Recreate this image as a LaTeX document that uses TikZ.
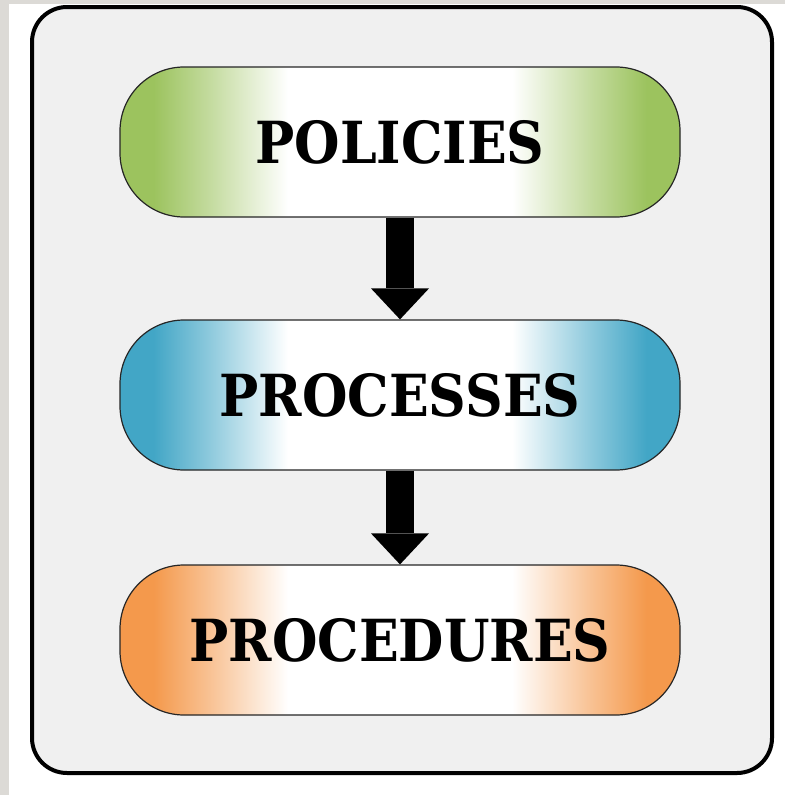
\documentclass[tikz,border=0pt]{standalone}
\usepackage{fontspec}
\newfontfamily\labelfont{DejaVu Serif Condensed}
\usetikzlibrary{arrows.meta}

\definecolor{bggray}{HTML}{DCDAD6}
\definecolor{panelgray}{HTML}{F0F0F0}
\definecolor{polgreen}{HTML}{9CC35E}
\definecolor{procblue}{HTML}{42A6C6}
\definecolor{prcdorange}{HTML}{F4994C}

% white middle, coloured sides
\newcommand{\pillshade}[2]{\pgfdeclarehorizontalshading{#1}{100bp}{color(0bp)=(#2); color(28bp)=(#2); color(33bp)=(#2!60!white); color(40bp)=(white); color(60bp)=(white); color(67bp)=(#2!60!white); color(72bp)=(#2); color(100bp)=(#2)}}
\pillshade{greenpill}{polgreen}
\pillshade{bluepill}{procblue}
\pillshade{orangepill}{prcdorange}

\tikzset{
  pill/.style={draw=black!85, line width=1.2pt, rounded corners=64pt, minimum width=560pt, minimum height=150pt, inner sep=0pt, font=\labelfont\bfseries\fontsize{58}{62}\selectfont},
  flow/.style={line width=28pt, -{Triangle[width=58pt,length=31pt,line width=0pt]}}
}

\begin{document}
\begin{tikzpicture}[x=1pt,y=-1pt]
\useasboundingbox (0,0) rectangle (785,795);
% Background
\fill [white] (0,0) rectangle (785,795);
\fill [bggray] (0,0) rectangle (9,795);
\fill [bggray] (0,0) rectangle (785,4);
% Panel
\draw [line width=4pt, fill=panelgray, rounded corners=35pt] (32,7) rectangle (772,773);
% Steps
\node [pill, shade, shading=greenpill] (pol) at (400,142) {POLICIES};
\node [pill, shade, shading=bluepill] (proc) at (400,395) {PROCESSES};
\node [pill, shade, shading=orangepill] (prcd) at (400,640) {PROCEDURES};
% Arrows
\draw [flow] (pol.south) -- (proc.north);
\draw [flow] (proc.south) -- (prcd.north);
\end{tikzpicture}
\end{document}
